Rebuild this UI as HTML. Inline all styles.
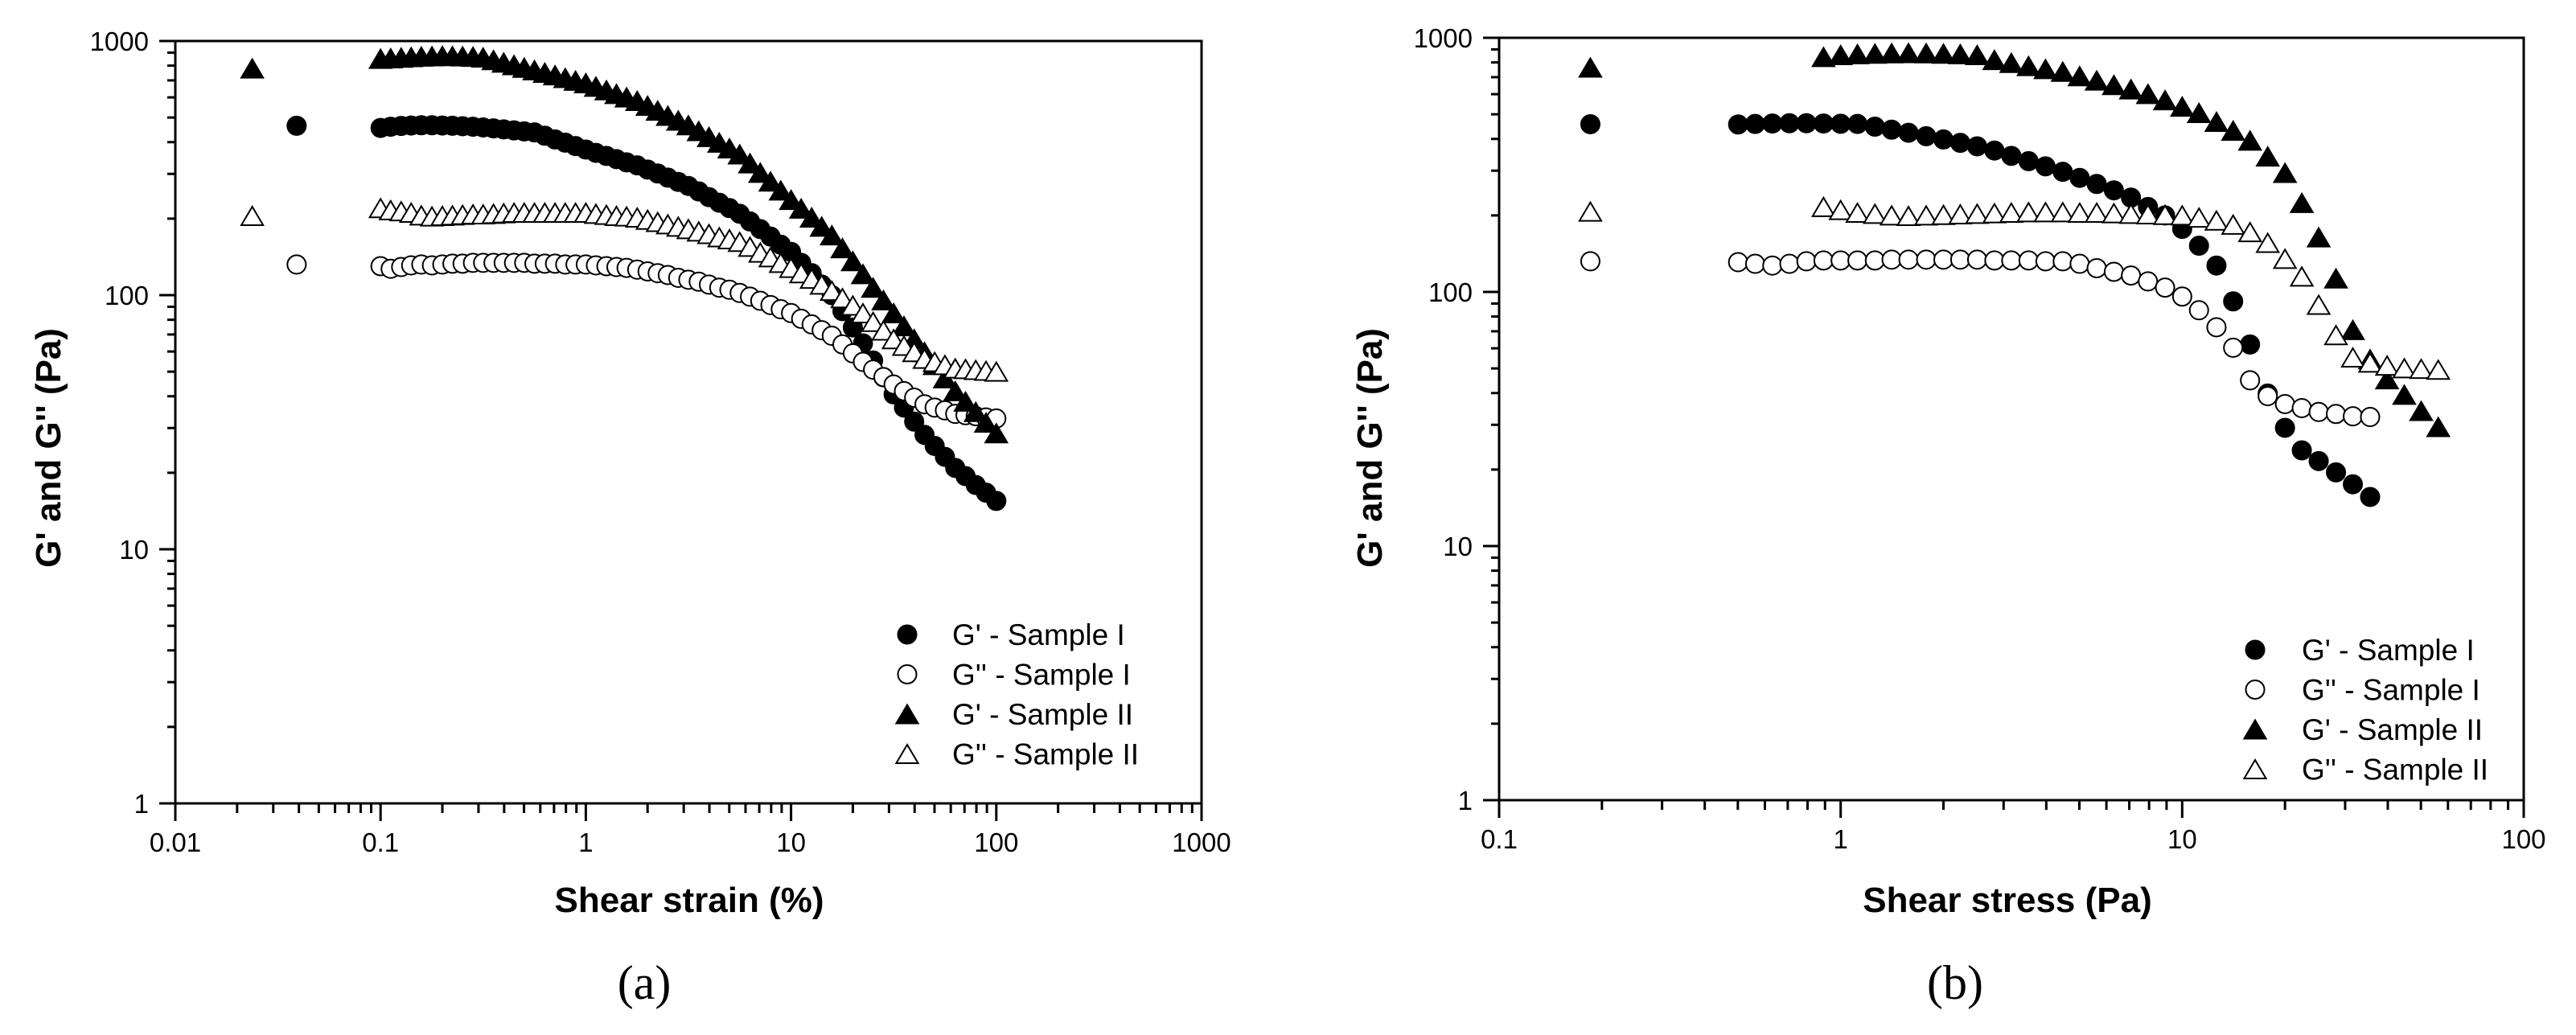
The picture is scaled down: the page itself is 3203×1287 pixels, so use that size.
<!DOCTYPE html>
<html><head><meta charset="utf-8"><style>
html,body{margin:0;padding:0;background:#fff;}
svg{display:block;}
text{font-family:"Liberation Sans",Arial,sans-serif;fill:#000;}
</style></head><body>
<svg id="fig" width="3203" height="1287" viewBox="0 0 3203 1287" xmlns="http://www.w3.org/2000/svg">
<rect x="0" y="0" width="3203" height="1287" fill="#fff"/>
<g id="panelA"></g>
<g id="panelB"></g>
</svg>
<script>
// ---------- Panel (a): shear strain sweep ----------
const strainX = [0.1,0.112,0.126,0.141,0.158,0.178,0.2,0.224,0.251,0.282,0.316,0.355,0.398,0.447,0.501,0.562,0.631,0.708,0.794,0.891,1,1.12,1.26,1.41,1.58,1.78,2,2.24,2.51,2.82,3.16,3.55,3.98,4.47,5.01,5.62,6.31,7.08,7.94,8.91,10,11.2,12.6,14.1,15.8,17.8,20,22.4,25.1,28.2,31.6,35.5,39.8,44.7,50.1,56.2,63.1,70.8,79.4,89.1,100];
const strainGp1 = [455,460,463,465,466,466,465,464,462,460,457,453,449,445,441,437,424,410,398,386,374,363,353,343,333,324,312,301,290,279,269,256,243,231,220,209,195,182,170,158,148,134,122,110,100,86.5,74.6,64.6,55.3,47.5,40.7,36.1,31.8,28.2,25.5,23.1,20.9,19.4,17.9,16.7,15.5];
const strainGpp1 = [130,127,129,131,132,131,132,133,133,134,134,134,134,134,134,133,133,133,132,132,132,131,130,129,128,126,124,122,120,117,115,113,110,107,105,102,98.6,95,91.4,88,85,80.7,76.7,72.8,69.2,64,59,54.6,50.9,47.6,44.5,41.9,39.5,37.2,36.1,35.2,34.1,33.7,33.4,33.0,32.7];
const strainGp2 = [851,855,860,864,868,871,873,872,870,867,861,841,822,804,785,767,750,733,715,698,682,661,640,619,600,581,556,532,508,486,466,442,419,398,378,358,330,303,280,258,237,219,202,186,172,153,136,121,107,95.5,84.9,75.5,67.1,59.7,53.1,47.1,41.9,38.1,34.7,31.5,28.6];
const strainGpp2 = [220,216,214,211,206,204,205,206,207,208,208,209,210,211,211,211,211,211,211,211,211,209,207,205,204,202,198,194,190,186,182,178,174,169,166,162,155,147,141,134,128,122,116,110,104,97.3,91,84.9,78.5,72.6,67.1,63.2,59.7,56.2,54.6,53.1,51.5,51.2,50.8,50.4,50.0];
const strainSingleX = [0.039,0.039,0.0237,0.0237];
const strainSingleY = [464,132,780,205];

// ---------- Panel (b): shear stress sweep ----------
const stressX1 = [0.501,0.562,0.631,0.708,0.794,0.891,1,1.12,1.26,1.41,1.58,1.78,2,2.24,2.51,2.82,3.16,3.55,3.98,4.47,5.01,5.62,6.31,7.08,7.94,8.91,10,11.2,12.6,14.1,15.8,17.8,20,22.4,25.1,28.2,31.6,35.5];
const stressGp1 = [456,458,460,461,461,460,459,458,447,435,423,410,398,386,374,360,343,327,312,297,281,266,251,235,216,200,177,152,127,91.8,62.1,39.8,29.2,23.8,21.6,19.5,17.5,15.6];
const stressGpp1 = [131,129,127,129,132,133,133,133,133,134,134,134,134,134,134,133,133,133,132,132,129,124,120,116,110,104,95.9,84.7,72.6,60.3,44.9,38.9,36.2,34.9,33.7,33.1,32.4,32.2];
const stressX2 = [0.891,1,1.12,1.26,1.41,1.58,1.78,2,2.24,2.51,2.82,3.16,3.55,3.98,4.47,5.01,5.62,6.31,7.08,7.94,8.91,10,11.2,12.6,14.1,15.8,17.8,20,22.4,25.1,28.2,31.6,35.5,39.8,44.7,50.1,56.2];
const stressGp2 = [840,855,862,866,869,871,869,866,862,855,818,796,774,753,735,706,679,652,627,601,568,536,506,467,431,394,341,294,224,164,113,70.8,54.3,45.3,39.4,34.0,29.4];
const stressGpp2 = [216,210,205,203,200,199,200,201,202,203,204,205,206,206,206,205,205,204,203,202,201,200,196,191,184,172,156,135,115,89,67.6,55.2,52.7,51.3,50.1,49.8,49.4];
const stressSingleX = [0.185,0.185,0.185,0.185];
const stressSingleY = [457,132,764,207];

// ---------- Axis tick labels ----------
const yTickLabels = ["1","10","100","1000"];
const xTickLabelsA = ["0.01","0.1","1","10","100","1000"];
const xTickLabelsB = ["0.1","1","10","100"];
const legendLabels = ["G' - Sample I","G'' - Sample I","G' - Sample II","G'' - Sample II"];

const NS = "http://www.w3.org/2000/svg";
function mk(tag, attrs, parent){
  const e = document.createElementNS(NS, tag);
  for (const k in attrs) e.setAttribute(k, attrs[k]);
  parent.appendChild(e);
  return e;
}
function makeAxis(x0,x1,lmin,lmax,y0,y1,vmin,vmax){
  return {
    sx: v => x0 + (Math.log10(v)-lmin)/(lmax-lmin)*(x1-x0),
    sy: v => y1 - (Math.log10(v)-vmin)/(vmax-vmin)*(y1-y0)
  };
}
function marker(g, kind, cx, cy, r){
  let el;
  if (kind==='circle' || kind==='ocircle'){
    el = mk('circle',{cx:cx,cy:cy,r:r,fill:kind==='circle'?'#000':'#fff',stroke:'#000','stroke-width':2},g);
  } else {
    const w=r*1.18, h=r*1.0;
    el = mk('polygon',{points:`${cx},${cy-h} ${cx-w},${cy+h} ${cx+w},${cy+h}`,fill:kind==='tri'?'#000':'#fff',stroke:'#000','stroke-width':2,'stroke-linejoin':'miter'},g);
  }
  return el;
}

function buildPanel(p){
  const g = document.getElementById(p.id);
  const ax = makeAxis(p.x0,p.x1,p.lmin,p.lmax,p.y0,p.y1,0,3);
  // frame
  const frame = mk('rect',{x:p.x0,y:p.y0,width:p.x1-p.x0,height:p.y1-p.y0,fill:'none',stroke:'#000','stroke-width':3},g);
  
  
  // y ticks
  const yt = mk('g',{},g);
  
  
  for (let d=0; d<=3; d++){
    const v = Math.pow(10,d);
    const y = ax.sy(v);
    mk('line',{x1:p.x0-20,x2:p.x0,y1:y,y2:y,stroke:'#000','stroke-width':3},yt);
    const t = mk('text',{x:p.x0-33,y:y+12,'text-anchor':'end','font-size':33},yt);
    t.textContent = yTickLabels[d];
    
    
    if (d<3) for (let m=2;m<=9;m++){
      const ym = ax.sy(v*m);
      mk('line',{x1:p.x0-10,x2:p.x0,y1:ym,y2:ym,stroke:'#000','stroke-width':3},yt);
    }
  }
  // x ticks
  const xt = mk('g',{},g);
  
  
  for (let d=p.lmin; d<=p.lmax; d++){
    const v = Math.pow(10,d);
    const x = ax.sx(v);
    mk('line',{x1:x,x2:x,y1:p.y1,y2:p.y1+22,stroke:'#000','stroke-width':3},xt);
    const t = mk('text',{x:x,y:p.y1+60,'text-anchor':'middle','font-size':33},xt);
    t.textContent = p.xLabels[d-p.lmin];
    
    
    if (d<p.lmax) for (let m=2;m<=9;m++){
      const xm = ax.sx(v*m);
      mk('line',{x1:xm,x2:xm,y1:p.y1,y2:p.y1+12,stroke:'#000','stroke-width':3},xt);
    }
  }
  // axis titles
  const ytl = mk('text',{x:0,y:0,'text-anchor':'middle','font-size':44,'font-weight':'bold',transform:`translate(${p.yTitleX},557) rotate(-90)`},g);
  ytl.textContent = "G' and G'' (Pa)";
  
  
  const xtl = mk('text',{x:p.xTitleX,y:1134,'text-anchor':'middle','font-size':44,'font-weight':'bold'},g);
  xtl.textContent = p.xTitle;
  
  
  const cap = mk('text',{x:p.capX,y:1242,'text-anchor':'middle','font-size':60,style:'font-family:"Liberation Serif",serif'},g);
  cap.textContent = p.cap;
  
  
  // series
  const kinds = ['circle','ocircle','tri','otri'];
  const names = ['series-gp-sample-1','series-gpp-sample-1','series-gp-sample-2','series-gpp-sample-2'];
  for (let s=0;s<4;s++){
    const sg = mk('g',{},g);
    
    
    const xs = p.xs[s], ys = p.ys[s];
    for (let i=0;i<ys.length;i++){
      const m = marker(sg, kinds[s], ax.sx(xs[i]), ax.sy(ys[i]), 11.5);
      
      
    }
    const m0 = marker(sg, kinds[s], ax.sx(p.singleX[s]), ax.sy(p.singleY[s]), 11.5);
    
    
  }
  // legend
  const lg = mk('g',{},g);
  
  
  for (let s=0;s<4;s++){
    const ry = p.legY + s*49.5;
    const e = mk('g',{},lg);
    
    
    marker(e, kinds[s], p.legMX, ry, 11.5);
    const t = mk('text',{x:p.legTX,y:ry+13,'font-size':37},e);
    t.textContent = legendLabels[s];
  }
}

buildPanel({id:'panelA',x0:218,x1:1494,lmin:-2,lmax:3,y0:51,y1:999,
  xLabels:xTickLabelsA,yTitleX:75,xTitleX:857,xTitle:'Shear strain (%)',capX:801,cap:'(a)',
  xs:[strainX,strainX,strainX,strainX],ys:[strainGp1,strainGpp1,strainGp2,strainGpp2],
  singleX:strainSingleX,singleY:strainSingleY,legY:789,legMX:1128,legTX:1184});
buildPanel({id:'panelB',x0:1864,x1:3138,lmin:-1,lmax:2,y0:47,y1:995,
  xLabels:xTickLabelsB,yTitleX:1718,xTitleX:2496,xTitle:'Shear stress (Pa)',capX:2431,cap:'(b)',
  xs:[stressX1,stressX1,stressX2,stressX2],ys:[stressGp1,stressGpp1,stressGp2,stressGpp2],
  singleX:stressSingleX,singleY:stressSingleY,legY:808,legMX:2804,legTX:2862});
</script>
</body></html>
